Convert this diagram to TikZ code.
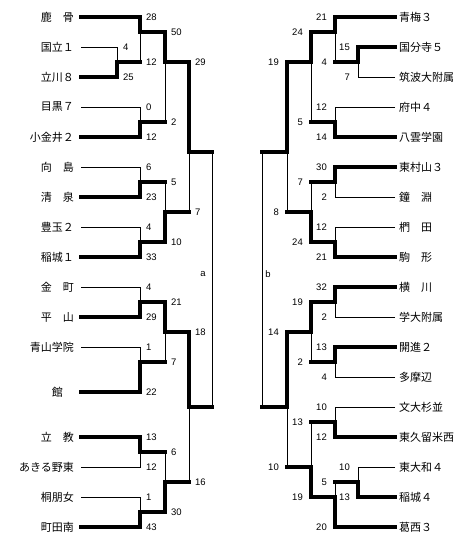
\documentclass[tikz,border=0pt]{standalone}
\usepackage{fontspec}
\setmainfont{Liberation Sans}
\newfontfamily\jfont{Noto Sans CJK JP}
\usepackage{tikz}
\usetikzlibrary{positioning}

\begin{document}
\begin{tikzpicture}[x=1pt, y=-1pt,
			lteam/.style={anchor=east, inner xsep=7pt, inner ysep=0pt, font=\jfont\fontsize{11}{11}\selectfont},
			rteam/.style={anchor=west, inner xsep=4pt, inner ysep=0pt, font=\jfont\fontsize{11}{11}\selectfont},
			score/.style={inner sep=1pt, font=\fontsize{9.5}{9.5}\selectfont},
			win/.style={line width=3.2pt, line cap=rect},
			lose/.style={line width=0.9pt}
			]
			\path[use as bounding box, fill=white] (0,0) rectangle (470,549);
			
			\node [lteam](a1) at (81,17) {鹿　骨};
			\node [lteam](a2) at (81,47) {国立１};
			\node [lteam](a3) at (81,77) {立川８};
			\node [lteam](a4) at (81,107) {目黒７};
			\node [lteam](a5) at (81,137) {小金井２};
			\node [lteam](a6) at (81,167) {向　島};
			\node [lteam](a7) at (81,197) {清　泉};
			\node [lteam](a8) at (81,227) {豊玉２};
			\node [lteam](a9) at (81,257) {稲城１};
			\node [lteam](a10) at (81,287) {金　町};
			\node [lteam](a11) at (81,317) {平　山};
			\node [lteam](a12) at (81,347) {青山学院};
			\node [lteam](a13) at (81,392) {館　};
			\node [lteam](a14) at (81,437) {立　教};
			\node [lteam](a15) at (81,467) {あきる野東};
			\node [lteam](a16) at (81,497) {桐朋女};
			\node [lteam](a17) at (81,527) {町田南};
			
			\node [rteam](b1) at (395,17) {青梅３};
			\node [rteam](b2) at (395,47) {国分寺５};
			\node [rteam](b3) at (395,77) {筑波大附属};
			\node [rteam](b4) at (395,107) {府中４};
			\node [rteam](b5) at (395,137) {八雲学園};
			\node [rteam](b6) at (395,167) {東村山３};
			\node [rteam](b7) at (395,197) {鐘　淵};
			\node [rteam](b8) at (395,227) {椚　田};
			\node [rteam](b9) at (395,257) {駒　形};
			\node [rteam](b10) at (395,287) {横　川};
			\node [rteam](b11) at (395,317) {学大附属};
			\node [rteam](b12) at (395,347) {開進２};
			\node [rteam](b13) at (395,377) {多摩辺};
			\node [rteam](b14) at (395,407) {文大杉並};
			\node [rteam](b15) at (395,437) {東久留米西};
			\node [rteam](b16) at (395,467) {東大和４};
			\node [rteam](b17) at (395,497) {稲城４};
			\node [rteam](b18) at (395,527) {葛西３};
			
			\coordinate (L1t) at (117,47); \coordinate (L1) at (117,62); \coordinate (L1b) at (117,77);
			\coordinate (L2t) at (140,17); \coordinate (L2) at (140,32); \coordinate (L2b) at (140,62);
			\coordinate (L3t) at (140,107); \coordinate (L3) at (140,122); \coordinate (L3b) at (140,137);
			\coordinate (L4t) at (165,32); \coordinate (L4) at (165,62); \coordinate (L4b) at (165,122);
			\coordinate (L5t) at (140,167); \coordinate (L5) at (140,182); \coordinate (L5b) at (140,197);
			\coordinate (L6t) at (140,227); \coordinate (L6) at (140,242); \coordinate (L6b) at (140,257);
			\coordinate (L7t) at (165,182); \coordinate (L7) at (165,212); \coordinate (L7b) at (165,242);
			\coordinate (L8t) at (189,62); \coordinate (L8) at (189,152); \coordinate (L8b) at (189,212);
			\coordinate (L9t) at (140,287); \coordinate (L9) at (140,302); \coordinate (L9b) at (140,317);
			\coordinate (L10t) at (140,347); \coordinate (L10) at (140,362); \coordinate (L10b) at (140,392);
			\coordinate (L11t) at (165,302); \coordinate (L11) at (165,332); \coordinate (L11b) at (165,362);
			\coordinate (L12t) at (140,437); \coordinate (L12) at (140,452); \coordinate (L12b) at (140,467);
			\coordinate (L13t) at (140,497); \coordinate (L13) at (140,512); \coordinate (L13b) at (140,527);
			\coordinate (L14t) at (165,452); \coordinate (L14) at (165,482); \coordinate (L14b) at (165,512);
			\coordinate (L15t) at (189,332); \coordinate (L15) at (189,407); \coordinate (L15b) at (189,482);
			\coordinate (Ltop) at (212,152); \coordinate (Lbot) at (212,407);
			
			\coordinate (R1t) at (358,47); \coordinate (R1) at (358,62); \coordinate (R1b) at (358,77);
			\coordinate (R2t) at (335,17); \coordinate (R2) at (335,32); \coordinate (R2b) at (335,62);
			\coordinate (R3t) at (335,107); \coordinate (R3) at (335,122); \coordinate (R3b) at (335,137);
			\coordinate (R4t) at (311,32); \coordinate (R4) at (311,62); \coordinate (R4b) at (311,122);
			\coordinate (R5t) at (335,167); \coordinate (R5) at (335,182); \coordinate (R5b) at (335,197);
			\coordinate (R6t) at (335,227); \coordinate (R6) at (335,242); \coordinate (R6b) at (335,257);
			\coordinate (R7t) at (311,182); \coordinate (R7) at (311,212); \coordinate (R7b) at (311,242);
			\coordinate (R8t) at (287,62); \coordinate (R8) at (287,152); \coordinate (R8b) at (287,212);
			\coordinate (R9t) at (335,287); \coordinate (R9) at (335,302); \coordinate (R9b) at (335,317);
			\coordinate (R10t) at (335,347); \coordinate (R10) at (335,362); \coordinate (R10b) at (335,377);
			\coordinate (R11t) at (311,302); \coordinate (R11) at (311,332); \coordinate (R11b) at (311,362);
			\coordinate (R12t) at (335,407); \coordinate (R12) at (335,422); \coordinate (R12b) at (335,437);
			\coordinate (R13t) at (358,467); \coordinate (R13) at (358,482); \coordinate (R13b) at (358,497);
			\coordinate (R14t) at (335,482); \coordinate (R14) at (335,497); \coordinate (R14b) at (335,527);
			\coordinate (R15t) at (311,422); \coordinate (R15) at (311,467); \coordinate (R15b) at (311,497);
			\coordinate (R16t) at (287,332); \coordinate (R16) at (287,407); \coordinate (R16b) at (287,467);
			\coordinate (Rtop) at (262,152); \coordinate (Rbot) at (262,407);
			
			\draw[lose] (a2.east) -- (L1t) -- (L1);
			\draw[win] (a3.east) -- (L1b) -- (L1) -- (L2b);
			\draw[win] (a1.east) -- (L2t) -- (L2) -- (L4t);
			\draw[lose] (L2) -- (L2b);
			\draw[lose] (a4.east) -- (L3t) -- (L3);
			\draw[win] (a5.east) -- (L3b) -- (L3) -- (L4b);
			\draw[win] (L4t) -- (L4) -- (L8t);
			\draw[lose] (L4) -- (L4b);
			\draw[lose] (a6.east) -- (L5t) -- (L5);
			\draw[win] (a7.east) -- (L5b) -- (L5) -- (L7t);
			\draw[lose] (a8.east) -- (L6t) -- (L6);
			\draw[win] (a9.east) -- (L6b) -- (L6) -- (L7b);
			\draw[lose] (L7t) -- (L7);
			\draw[win] (L7b) -- (L7) -- (L8b);
			\draw[win] (L8t) -- (L8) -- (Ltop);
			\draw[lose] (L8) -- (L8b);
			\draw[lose] (a10.east) -- (L9t) -- (L9);
			\draw[win] (a11.east) -- (L9b) -- (L9) -- (L11t);
			\draw[lose] (a12.east) -- (L10t) -- (L10);
			\draw[win] (a13.east) -- (L10b) -- (L10) -- (L11b);
			\draw[win] (L11t) -- (L11) -- (L15t);
			\draw[lose] (L11) -- (L11b);
			\draw[win] (a14.east) -- (L12t) -- (L12) -- (L14t);
			\draw[lose] (a15.east) -- (L12b) -- (L12);
			\draw[lose] (a16.east) -- (L13t) -- (L13);
			\draw[win] (a17.east) -- (L13b) -- (L13) -- (L14b);
			\draw[lose] (L14t) -- (L14);
			\draw[win] (L14b) -- (L14) -- (L15b);
			\draw[win] (L15t) -- (L15) -- (Lbot);
			\draw[lose] (L15) -- (L15b);
			\draw[lose] (Ltop) -- (Lbot);
			
			\draw[win] (b2.west) -- (R1t) -- (R1) -- (R2b);
			\draw[lose] (b3.west) -- (R1b) -- (R1);
			\draw[win] (b1.west) -- (R2t) -- (R2) -- (R4t);
			\draw[lose] (R2) -- (R2b);
			\draw[lose] (b4.west) -- (R3t) -- (R3);
			\draw[win] (b5.west) -- (R3b) -- (R3) -- (R4b);
			\draw[win] (R4t) -- (R4) -- (R8t);
			\draw[lose] (R4) -- (R4b);
			\draw[win] (b6.west) -- (R5t) -- (R5) -- (R7t);
			\draw[lose] (b7.west) -- (R5b) -- (R5);
			\draw[lose] (b8.west) -- (R6t) -- (R6);
			\draw[win] (b9.west) -- (R6b) -- (R6) -- (R7b);
			\draw[lose] (R7t) -- (R7);
			\draw[win] (R7b) -- (R7) -- (R8b);
			\draw[win] (R8t) -- (R8) -- (Rtop);
			\draw[lose] (R8) -- (R8b);
			\draw[win] (b10.west) -- (R9t) -- (R9) -- (R11t);
			\draw[lose] (b11.west) -- (R9b) -- (R9);
			\draw[win] (b12.west) -- (R10t) -- (R10) -- (R11b);
			\draw[lose] (b13.west) -- (R10b) -- (R10);
			\draw[win] (R11t) -- (R11) -- (R16t);
			\draw[lose] (R11) -- (R11b);
			\draw[lose] (b14.west) -- (R12t) -- (R12);
			\draw[win] (b15.west) -- (R12b) -- (R12) -- (R15t);
			\draw[lose] (b16.west) -- (R13t) -- (R13);
			\draw[win] (b17.west) -- (R13b) -- (R13) -- (R14t);
			\draw[lose] (R14t) -- (R14);
			\draw[win] (b18.west) -- (R14b) -- (R14) -- (R15b);
			\draw[lose] (R15t) -- (R15);
			\draw[win] (R15b) -- (R15) -- (R16b);
			\draw[win] (R16t) -- (R16) -- (Rbot);
			\draw[lose] (R16) -- (R16b);
			\draw[lose] (Rtop) -- (Rbot);
			
			\node [score, right=5pt of L1t](L1p) {4};
			\node [score, right=5pt of L1b](L1q) {25};
			\node [score, right=5pt of L2t](L2p) {28};
			\node [score, right=5pt of L2b](L2q) {12};
			\node [score, right=5pt of L3t](L3p) {0};
			\node [score, right=5pt of L3b](L3q) {12};
			\node [score, right=5pt of L4t](L4p) {50};
			\node [score, right=5pt of L4b](L4q) {2};
			\node [score, right=5pt of L5t](L5p) {6};
			\node [score, right=5pt of L5b](L5q) {23};
			\node [score, right=5pt of L6t](L6p) {4};
			\node [score, right=5pt of L6b](L6q) {33};
			\node [score, right=5pt of L7t](L7p) {5};
			\node [score, right=5pt of L7b](L7q) {10};
			\node [score, right=5pt of L8t](L8p) {29};
			\node [score, right=5pt of L8b](L8q) {7};
			\node [score, right=5pt of L9t](L9p) {4};
			\node [score, right=5pt of L9b](L9q) {29};
			\node [score, right=5pt of L10t](L10p) {1};
			\node [score, right=5pt of L10b](L10q) {22};
			\node [score, right=5pt of L11t](L11p) {21};
			\node [score, right=5pt of L11b](L11q) {7};
			\node [score, right=5pt of L12t](L12p) {13};
			\node [score, right=5pt of L12b](L12q) {12};
			\node [score, right=5pt of L13t](L13p) {1};
			\node [score, right=5pt of L13b](L13q) {43};
			\node [score, right=5pt of L14t](L14p) {6};
			\node [score, right=5pt of L14b](L14q) {30};
			\node [score, right=5pt of L15t](L15p) {18};
			\node [score, right=5pt of L15b](L15q) {16};
			\node [score](la) at (203,274) {a};
			
			\node [score, left=7pt of R1t](R1p) {15};
			\node [score, left=7pt of R1b](R1q) {7};
			\node [score, left=7pt of R2t](R2p) {21};
			\node [score, left=7pt of R2b](R2q) {4};
			\node [score, left=7pt of R3t](R3p) {12};
			\node [score, left=7pt of R3b](R3q) {14};
			\node [score, left=7pt of R4t](R4p) {24};
			\node [score, left=7pt of R4b](R4q) {5};
			\node [score, left=7pt of R5t](R5p) {30};
			\node [score, left=7pt of R5b](R5q) {2};
			\node [score, left=7pt of R6t](R6p) {12};
			\node [score, left=7pt of R6b](R6q) {21};
			\node [score, left=7pt of R7t](R7p) {7};
			\node [score, left=7pt of R7b](R7q) {24};
			\node [score, left=7pt of R8t](R8p) {19};
			\node [score, left=7pt of R8b](R8q) {8};
			\node [score, left=7pt of R9t](R9p) {32};
			\node [score, left=7pt of R9b](R9q) {2};
			\node [score, left=7pt of R10t](R10p) {13};
			\node [score, left=7pt of R10b](R10q) {4};
			\node [score, left=7pt of R11t](R11p) {19};
			\node [score, left=7pt of R11b](R11q) {2};
			\node [score, left=7pt of R12t](R12p) {10};
			\node [score, left=7pt of R12b](R12q) {12};
			\node [score, left=7pt of R13t](R13p) {10};
			\node [score, left=7pt of R13b](R13q) {13};
			\node [score, left=7pt of R14t](R14p) {5};
			\node [score, left=7pt of R14b](R14q) {20};
			\node [score, left=7pt of R15t](R15p) {13};
			\node [score, left=7pt of R15b](R15q) {19};
			\node [score, left=7pt of R16t](R16p) {14};
			\node [score, left=7pt of R16b](R16q) {10};
			\node [score](lb) at (268,274) {b};
		\end{tikzpicture}
\end{document}
